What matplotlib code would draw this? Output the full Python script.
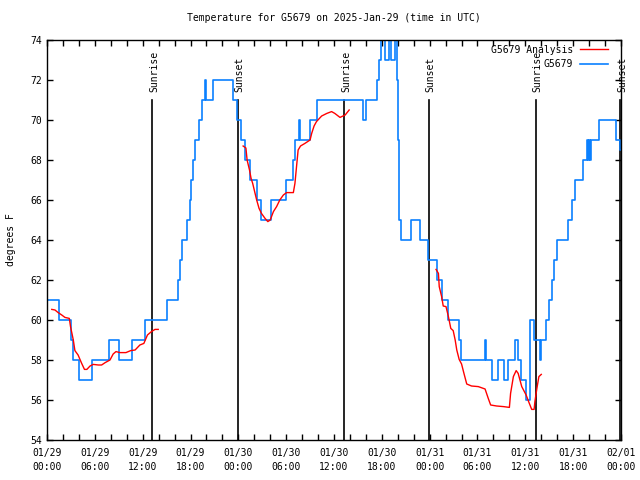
import matplotlib
matplotlib.use("Agg")
import matplotlib.pyplot as plt

plt.rcParams['font.family'] = ['DejaVu Sans Mono']

# hours since 2025-01-29 00:00 UTC
obs_hours = [0.0, 1.55, 2.95, 3.2, 4.05, 5.6, 7.75, 9.05, 10.7, 12.3, 15.1, 16.4, 16.65,
             16.9, 17.1, 17.6, 17.9, 18.1, 18.3, 18.6, 19.1, 19.5, 19.85, 20.0, 20.8, 23.3,
             23.85, 24.35, 24.85, 25.5, 26.3, 26.9, 28.15, 30.0, 30.85, 31.1, 31.55, 31.75,
             32.95, 33.85, 39.6, 40.0, 41.35, 41.7, 41.95, 42.45, 42.9, 43.1, 43.6, 43.9,
             43.98, 44.05, 44.12, 44.2, 44.35, 45.6, 46.85, 47.85, 48.9, 49.5, 50.35, 51.7,
             51.95, 54.9, 55.05, 55.85, 56.6, 57.35, 57.85, 58.65, 59.1, 59.4, 60.05, 60.6,
             61.05, 61.8, 61.95, 62.55, 62.95, 63.3, 63.6, 63.95, 65.4, 65.85, 66.2, 67.2,
             67.75, 67.85, 67.95, 68.05, 68.2, 69.25, 71.4, 71.9, 72.0]
obs_temp = [61, 60, 59, 58, 57, 58, 59, 58, 59, 60, 61, 62, 63,
            64, 64, 65, 66, 67, 68, 69, 70, 71, 72, 71, 72, 71,
            70, 69, 68, 67, 66, 65, 66, 67, 68, 69, 70, 69,
            70, 71, 70, 71, 72, 73, 74, 73, 74, 73, 74, 72,
            71, 69, 67, 65, 64, 65, 64, 63, 62, 61, 60, 59,
            58, 59, 58, 57, 58, 57, 58, 59, 58, 57, 56, 60,
            59, 58, 59, 60, 61, 62, 63, 64, 65, 66, 67, 68,
            69, 68, 69, 68, 69, 70, 69, 68.5, 68.5]

ana1_hours = [0.6, 1.0, 1.4, 1.85, 2.25, 2.8, 2.95, 3.3, 3.5, 3.9, 4.35, 4.7, 5.0, 5.4,
              5.8, 6.45, 6.85, 7.3, 7.9, 8.3, 8.65, 9.15, 9.9, 10.5, 11.05, 11.65, 12.15,
              12.6, 13.1, 13.55, 13.95]
ana1_temp = [60.53, 60.5, 60.37, 60.25, 60.13, 60.08, 59.67, 59.0, 58.47, 58.25, 57.83,
             57.53, 57.53, 57.7, 57.78, 57.75, 57.75, 57.87, 58.0, 58.3, 58.42, 58.37,
             58.37, 58.47, 58.5, 58.75, 58.83, 59.25, 59.42, 59.53, 59.53]

ana2_hours = [24.6, 24.95, 25.1, 25.4, 25.6, 25.8, 26.1, 26.3, 26.6, 26.9, 27.35, 27.7,
              28.0, 28.4, 28.8, 29.2, 29.65, 30.05, 30.9, 31.1, 31.3, 31.5, 31.8, 32.35,
              33.0, 33.2, 33.5, 33.8, 34.45, 35.1, 35.7, 36.1, 36.75, 37.4, 37.9]
ana2_temp = [68.7, 68.6, 68.0, 67.5, 67.08, 66.83, 66.33, 66.0, 65.58, 65.33, 65.08, 64.92,
             65.0, 65.42, 65.67, 66.0, 66.25, 66.37, 66.37, 66.83, 67.67, 68.5, 68.7, 68.83,
             69.0, 69.33, 69.7, 69.92, 70.2, 70.33, 70.42, 70.33, 70.13, 70.25, 70.5]

ana3_hours = [48.8, 49.1, 49.2, 49.5, 49.7, 50.05, 50.35, 50.65, 50.95, 51.2, 51.4, 51.7,
              52.0, 52.3, 52.65, 53.25, 54.1, 54.95, 55.35, 55.65, 56.4, 57.25, 58.0, 58.15,
              58.5, 58.85, 59.1, 59.55, 60.1, 60.5, 60.8, 61.1, 61.2, 61.45, 61.7, 62.0]
ana3_temp = [62.53, 62.33, 61.67, 61.17, 60.7, 60.67, 60.17, 59.58, 59.47, 59.0, 58.5, 58.03,
             57.8, 57.33, 56.8, 56.7, 56.67, 56.55, 56.08, 55.75, 55.7, 55.67, 55.63, 56.33,
             57.17, 57.47, 57.33, 56.67, 56.25, 55.83, 55.53, 55.53, 55.92, 56.58, 57.17, 57.28]

sun_hours = [13.2, 23.9, 37.3, 47.9, 61.3, 71.9]
sun_labels = ['Sunrise', 'Sunset', 'Sunrise', 'Sunset', 'Sunrise', 'Sunset']

tick_hours = list(range(0, 73, 6))
tick_labels = ['01/29\n00:00', '01/29\n06:00', '01/29\n12:00', '01/29\n18:00',
               '01/30\n00:00', '01/30\n06:00', '01/30\n12:00', '01/30\n18:00',
               '01/31\n00:00', '01/31\n06:00', '01/31\n12:00', '01/31\n18:00',
               '02/01\n00:00']

RED = '#ff0000'
BLUE = '#0a80ff'
FS = 7

fig = plt.figure(figsize=(6.4, 4.8), dpi=100)
ax = fig.add_axes([47/640, 40/480, 574/640, 400/480])

for t, lab in zip(sun_hours, sun_labels):
    ax.plot([t, t], [54, 71], color='black', lw=1.2, zorder=1)
    ax.text(t + 0.25, 71.4, lab, rotation=90, ha='center', va='bottom', fontsize=FS, zorder=1)

red_line, = ax.plot(ana1_hours, ana1_temp, color=RED, lw=1.0, label='G5679 Analysis', zorder=3)
ax.plot(ana2_hours, ana2_temp, color=RED, lw=1.0, zorder=3)
ax.plot(ana3_hours, ana3_temp, color=RED, lw=1.0, zorder=3)
blue_line, = ax.plot(obs_hours, obs_temp, color=BLUE, lw=1.2, drawstyle='steps-post',
                     label='G5679', zorder=2)

ax.set_xlim(0, 72)
ax.set_ylim(54, 74)
ax.set_xticks(tick_hours)
ax.set_xticklabels(tick_labels, fontsize=FS, linespacing=1.5)
ax.set_xticks(range(0, 73, 2), minor=True)
ax.set_yticks(range(54, 75, 2))
ax.set_yticklabels([str(v) for v in range(54, 75, 2)], fontsize=FS)
ax.tick_params(which='both', direction='in', top=True, right=True, length=4, width=1)
ax.tick_params(axis='x', pad=6)
for s in ax.spines.values():
    s.set_linewidth(1.0)

ax.set_ylabel('degrees F', fontsize=FS, labelpad=10)
ax.set_title('Temperature for G5679 on 2025-Jan-29 (time in UTC)', fontsize=FS, pad=14)

leg = ax.legend(handles=[red_line, blue_line], loc='upper right', bbox_to_anchor=(0.986, 1.0),
                markerfirst=False, frameon=False, fontsize=FS, handlelength=2.9,
                handletextpad=0.7, labelspacing=0.45, borderaxespad=0.2, borderpad=0.3)
leg.set_zorder(5)

fig.savefig('out.png', dpi=100)
